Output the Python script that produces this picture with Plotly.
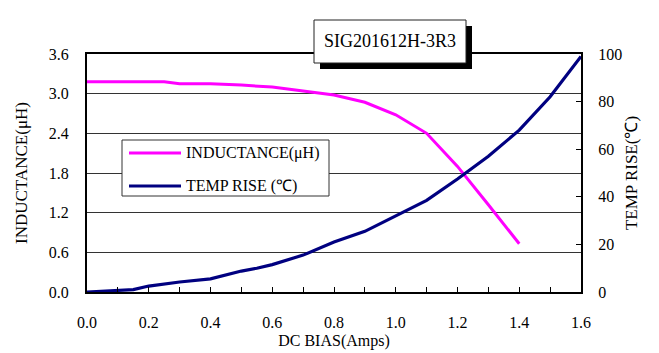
import plotly.graph_objects as go

ind_x = [0.0, 0.1, 0.2, 0.25, 0.3, 0.4, 0.5, 0.6, 0.7, 0.8, 0.9, 1.0, 1.1, 1.2, 1.3, 1.4]
ind_y = [3.18, 3.18, 3.18, 3.18, 3.15, 3.15, 3.13, 3.10, 3.04, 2.98, 2.87, 2.68, 2.40, 1.90, 1.32, 0.73]

temp_x = [0.0, 0.1, 0.15, 0.2, 0.3, 0.4, 0.5, 0.55, 0.6, 0.7, 0.8, 0.9, 1.0, 1.1, 1.2, 1.3, 1.4, 1.5, 1.6]
temp_y = [0, 0.5, 1, 2.5, 4.2, 5.5, 8.8, 10, 11.5, 15.5, 21, 25.5, 32, 38.5, 47.5, 57, 68, 82, 99]

series_names = ["INDUCTANCE(μH)", "TEMP RISE (℃)"]
series_colors = ["#FF00FF", "#000080"]
title_text = "SIG201612H-3R3"
FONT = "Liberation Serif, Times New Roman, serif"

W, H = 659, 353
L, R, T, B = 87, 78, 54, 61
pw, ph = W - L - R, H - T - B

def px(xp):
    return (xp - L) / pw

def py(yp):
    return (H - B - yp) / ph

fig = go.Figure()
fig.add_trace(go.Scatter(x=ind_x, y=ind_y, mode="lines", name=series_names[0],
                         line=dict(color=series_colors[0], width=3), showlegend=False))
fig.add_trace(go.Scatter(x=temp_x, y=temp_y, mode="lines", name=series_names[1],
                         line=dict(color=series_colors[1], width=3.2), yaxis="y2", showlegend=False))

fig.update_layout(
    width=W, height=H,
    margin=dict(l=L, r=R, t=T, b=B, pad=0),
    paper_bgcolor="white", plot_bgcolor="white",
    font=dict(family=FONT, size=16, color="black"),
    showlegend=False,
    xaxis=dict(range=[0, 1.6], dtick=0.2, tickformat=".1f", showgrid=False, zeroline=False,
               showline=True, linecolor="black", linewidth=2, mirror=True, automargin=False,
               ticks="inside", ticklen=5, tickcolor="black",
               minor=dict(ticks="inside", dtick=0.1, ticklen=5, tickcolor="black"),
               ticklabelstandoff=15,
               title=dict(text="DC BIAS(Amps)", standoff=5, font=dict(size=16)),
               tickfont=dict(size=16)),
    yaxis=dict(range=[0, 3.6], dtick=0.6, tickformat=".1f", showgrid=True, gridcolor="#333",
               gridwidth=1, zeroline=False, showline=True, linecolor="black", linewidth=2,
               ticks="", ticklabelstandoff=13, automargin=False,
               title=dict(text="INDUCTANCE(μH)", standoff=17, font=dict(size=17)),
               tickfont=dict(size=16)),
    yaxis2=dict(range=[0, 100], dtick=20, overlaying="y", side="right", showgrid=False,
                zeroline=False, showline=True, linecolor="black", linewidth=2, automargin=False,
                ticks="inside", ticklen=5, tickcolor="black", ticklabelstandoff=12,
                title=dict(text="TEMP RISE(℃)", standoff=4, font=dict(size=17)),
                tickfont=dict(size=16)),
)

# manual legend
fig.add_shape(type="rect", xref="paper", yref="paper",
              x0=px(122), x1=px(329), y0=py(196), y1=py(140),
              fillcolor="white", line=dict(color="#333", width=1), layer="above")
for i, (nm, col) in enumerate(zip(series_names, series_colors)):
    yy = 153 + 33 * i
    fig.add_shape(type="line", xref="paper", yref="paper",
                  x0=px(129), x1=px(181), y0=py(yy), y1=py(yy),
                  line=dict(color=col, width=3), layer="above")
    fig.add_annotation(xref="paper", yref="paper", x=px(184), y=py(yy), text=nm,
                       showarrow=False, xanchor="left", yanchor="middle",
                       font=dict(family=FONT, size=16, color="black"))

# title box with drop shadow
fig.add_shape(type="rect", xref="paper", yref="paper",
              x0=px(320), x1=px(472), y0=py(69), y1=py(26),
              fillcolor="black", line=dict(width=0), layer="above")
fig.add_shape(type="rect", xref="paper", yref="paper",
              x0=px(314), x1=px(466), y0=py(63), y1=py(20),
              fillcolor="white", line=dict(color="#222", width=1), layer="above")
fig.add_annotation(xref="paper", yref="paper", x=px(390), y=py(41.5), text=title_text,
                   showarrow=False, font=dict(family=FONT, size=18, color="black"),
                   xanchor="center", yanchor="middle")

fig.write_html("out.html", config={"displayModeBar": False},
               post_script="document.body.style.margin='0';document.body.style.overflow='hidden';")
